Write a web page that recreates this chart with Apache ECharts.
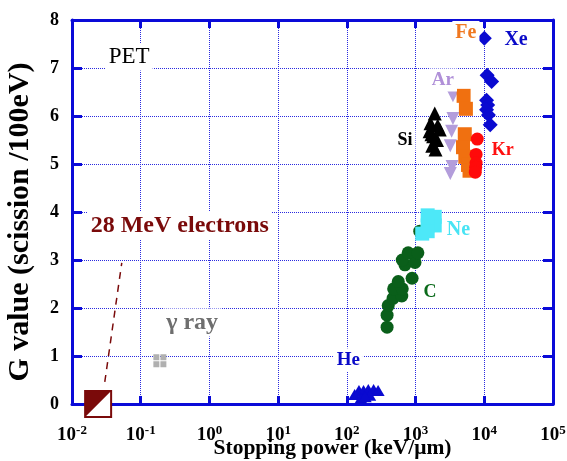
<!DOCTYPE html>
<html><head><meta charset="utf-8">
<script src="https://cdn.jsdelivr.net/npm/echarts@6/dist/echarts.min.js"></script>
<style>html,body{margin:0;padding:0;background:#fff}#c{width:567px;height:461px}</style>
</head><body><div id="c"></div>
<script>
// ---- data (x: stopping power keV/um, y: G value) ----
const xeData = [[10000,7.62],[11000,6.85],[12800,6.72],[10800,6.33],[11200,6.23],[10800,6.13],[11500,6.02],[12200,5.82]];
const krData = [[7900,5.52],[7600,5.2],[7600,5.02],[7500,4.93],[7400,4.83]];
const feData = [[5000,6.42],[5400,6.15],[5200,5.62],[4900,5.35],[5300,5.15],[5800,4.98],[6100,4.86]];
const arData = [[3500,6.42],[3500,5.95],[3350,5.68],[3200,5.38],[3400,4.95],[3200,4.8]];
const siData = [[1900,6.05],[1650,5.85],[2100,5.8],[1600,5.68],[2250,5.72],[1800,5.58],[2050,5.5],[1750,5.38],[1950,5.3],[1700,5.62]];
const neData = [[1500,3.93],[1900,3.9],[1900,3.72],[1500,3.72],[1250,3.55],[1500,3.6]];
const cData = [[385,1.6],[385,1.85],[400,2.05],[470,2.2],[630,2.25],[480,2.4],[640,2.4],[560,2.55],[890,2.62],[700,2.9],[980,2.95],[640,3.0],[780,3.15],[1080,3.15],[1150,3.6]];
const heData = [[130,0.2],[150,0.28],[175,0.28],[205,0.3],[245,0.3],[285,0.28],[160,0.12],[215,0.18],[185,0.15]];
const gammaData = [[0.19,0.9]];
const electronData = [[0.024,0]];
const electronLine = [[0.030,0.46],[0.053,2.94]];
const annotations = [
  ['Xe', 29000, 7.58], ['Fe', 5400, 7.73], ['Ar', 2500, 6.75], ['Si', 700, 5.5],
  ['Kr', 18600, 5.29], ['Ne', 4200, 3.62], ['C', 1620, 2.33], ['He', 105, 0.92],
  ['γ ray', 0.56, 1.7], ['28 MeV electrons', 0.37, 3.72], ['PET', 0.068, 7.23]
];

const FONT = 'Liberation Serif';
const AX = '#0a0ad8';
const annStyle = {
  'Xe': ['#0a0ac8', 20, 'bold'], 'Fe': ['#f07820', 20, 'bold'], 'Ar': ['#b090d8', 19, 'bold'],
  'Si': ['#000000', 18, 'bold'], 'Kr': ['#ff1010', 18, 'bold'], 'Ne': ['#48e4f4', 20, 'bold'],
  'C': ['#0a6a1a', 18, 'bold'], 'He': ['#0a0ac8', 19, 'bold'], 'γ ray': ['#6e6e6e', 24, 'bold'],
  '28 MeV electrons': ['#7a0a0a', 24, 'bold'], 'PET': ['#000000', 23, 'normal']
};

const chart = echarts.init(document.getElementById('c'), null, {renderer: 'canvas'});
const splitLine = {show: true, lineStyle: {type: 'dotted', color: '#2a2ae0', width: 1}};
function expOf(v){ return Math.round(Math.log10(v)); }

function scat(data, symbol, size, color, z) {
  return {type: 'scatter', data: data, symbol: symbol, symbolSize: size, clip: false, z: z,
    itemStyle: {color: color, opacity: 1}, emphasis: {disabled: true}};
}

const option = {
  animation: false,
  backgroundColor: '#fff',
  grid: {left: 72, top: 20, right: 14, bottom: 57, containLabel: false, outerBoundsMode: 'none'},
  xAxis: [{
    type: 'log', logBase: 10, min: 0.01, max: 100000, position: 'bottom',
    axisLine: {show: true, onZero: false, lineStyle: {color: AX, width: 3}},
    axisTick: {show: true, inside: true, length: 8, lineStyle: {color: AX, width: 3}},
    splitLine: splitLine, minorTick: {show: false},
    name: 'Stopping power (keV/μm)', nameLocation: 'middle', nameGap: 33, nameMoveOverlap: false,
    nameTextStyle: {fontFamily: FONT, fontWeight: 'bold', fontSize: 21.5, color: '#000', padding: [0, 0, 0, 40]},
    axisLabel: {margin: 20, fontFamily: FONT, fontWeight: 'bold', fontSize: 19, color: '#000',
      formatter: v => '10{sup|' + expOf(v) + '}',
      rich: {sup: {fontFamily: FONT, fontWeight: 'bold', fontSize: 13, color: '#000', padding: [0,0,10,0]}}}
  }, {
    type: 'log', logBase: 10, min: 0.01, max: 100000, position: 'top',
    axisLine: {show: true, onZero: false, lineStyle: {color: AX, width: 3}},
    axisTick: {show: true, inside: true, length: 8, lineStyle: {color: AX, width: 3}},
    axisLabel: {show: false}, splitLine: {show: false}
  }],
  yAxis: [{
    type: 'value', min: 0, max: 8, interval: 1, position: 'left',
    axisLine: {show: true, onZero: false, lineStyle: {color: AX, width: 3}},
    axisTick: {show: true, inside: true, length: 10, lineStyle: {color: AX, width: 3}},
    splitLine: splitLine,
    name: 'G value (scission /100eV)', nameLocation: 'middle', nameGap: 37, nameMoveOverlap: false,
    nameTextStyle: {fontFamily: FONT, fontWeight: 'bold', fontSize: 30, color: '#000', padding: [0, 20, 0, 0]},
    axisLabel: {margin: 13, fontFamily: FONT, fontWeight: 'bold', fontSize: 18, color: '#000'}
  }, {
    type: 'value', min: 0, max: 8, interval: 1, position: 'right',
    axisLine: {show: true, onZero: false, lineStyle: {color: AX, width: 3}},
    axisTick: {show: true, inside: true, length: 10, lineStyle: {color: AX, width: 3}},
    axisLabel: {show: false}, splitLine: {show: false}
  }],
  series: [
    {type: 'line', data: electronLine, symbol: 'none', z: 3,
      lineStyle: {color: '#7a0a0a', width: 1.5, type: [7, 6]}},
    scat(cData, 'circle', 13, '#0a5f1a', 4),
    scat(neData, 'rect', 14, '#4de8f8', 5),
    scat(siData, 'triangle', 14, '#000000', 6),
    scat(arData, 'path://M0,0L10,0L5,9Z', 13, '#b39ddb', 7),
    scat(feData, 'rect', 14, '#f07010', 8),
    scat(krData, 'circle', 13, '#ff0a0a', 9),
    scat(xeData, 'diamond', 15, '#0a0ad0', 10),
    scat(heData, 'triangle', [13, 11], '#0a0ad0', 10),
    scat(gammaData, 'path://M0,0h5.5v5.5h-5.5z M6.5,0h5.5v5.5h-5.5z M0,6.5h5.5v5.5h-5.5z M6.5,6.5h5.5v5.5h-5.5z', 13, '#b0b0b0', 10),
    {type: 'scatter', data: electronData, symbol: 'rect', symbolSize: 26, clip: false, z: 11,
      itemStyle: {color: '#ffffff', borderColor: '#7a0a0a', borderWidth: 2, opacity: 1}},
    {type: 'scatter', data: electronData, symbol: 'path://M0,0L10,0L0,10Z', symbolSize: 25, clip: false, z: 12,
      itemStyle: {color: '#7a0a0a', opacity: 1}},
    {type: 'scatter', symbolSize: 0, clip: false, z: 20, silent: true,
      itemStyle: {opacity: 1},
      data: annotations.map(a => {
        const s = annStyle[a[0]];
        return {value: [a[1], a[2]], label: {show: true, position: 'inside', formatter: a[0],
          color: s[0], fontSize: s[1], fontWeight: s[2], fontFamily: FONT, opacity: 1,
          textBorderWidth: 0, backgroundColor: '#fff', padding: [2, 3]}};
      })}
  ]
};
chart.setOption(option);
</script>
</body></html>
